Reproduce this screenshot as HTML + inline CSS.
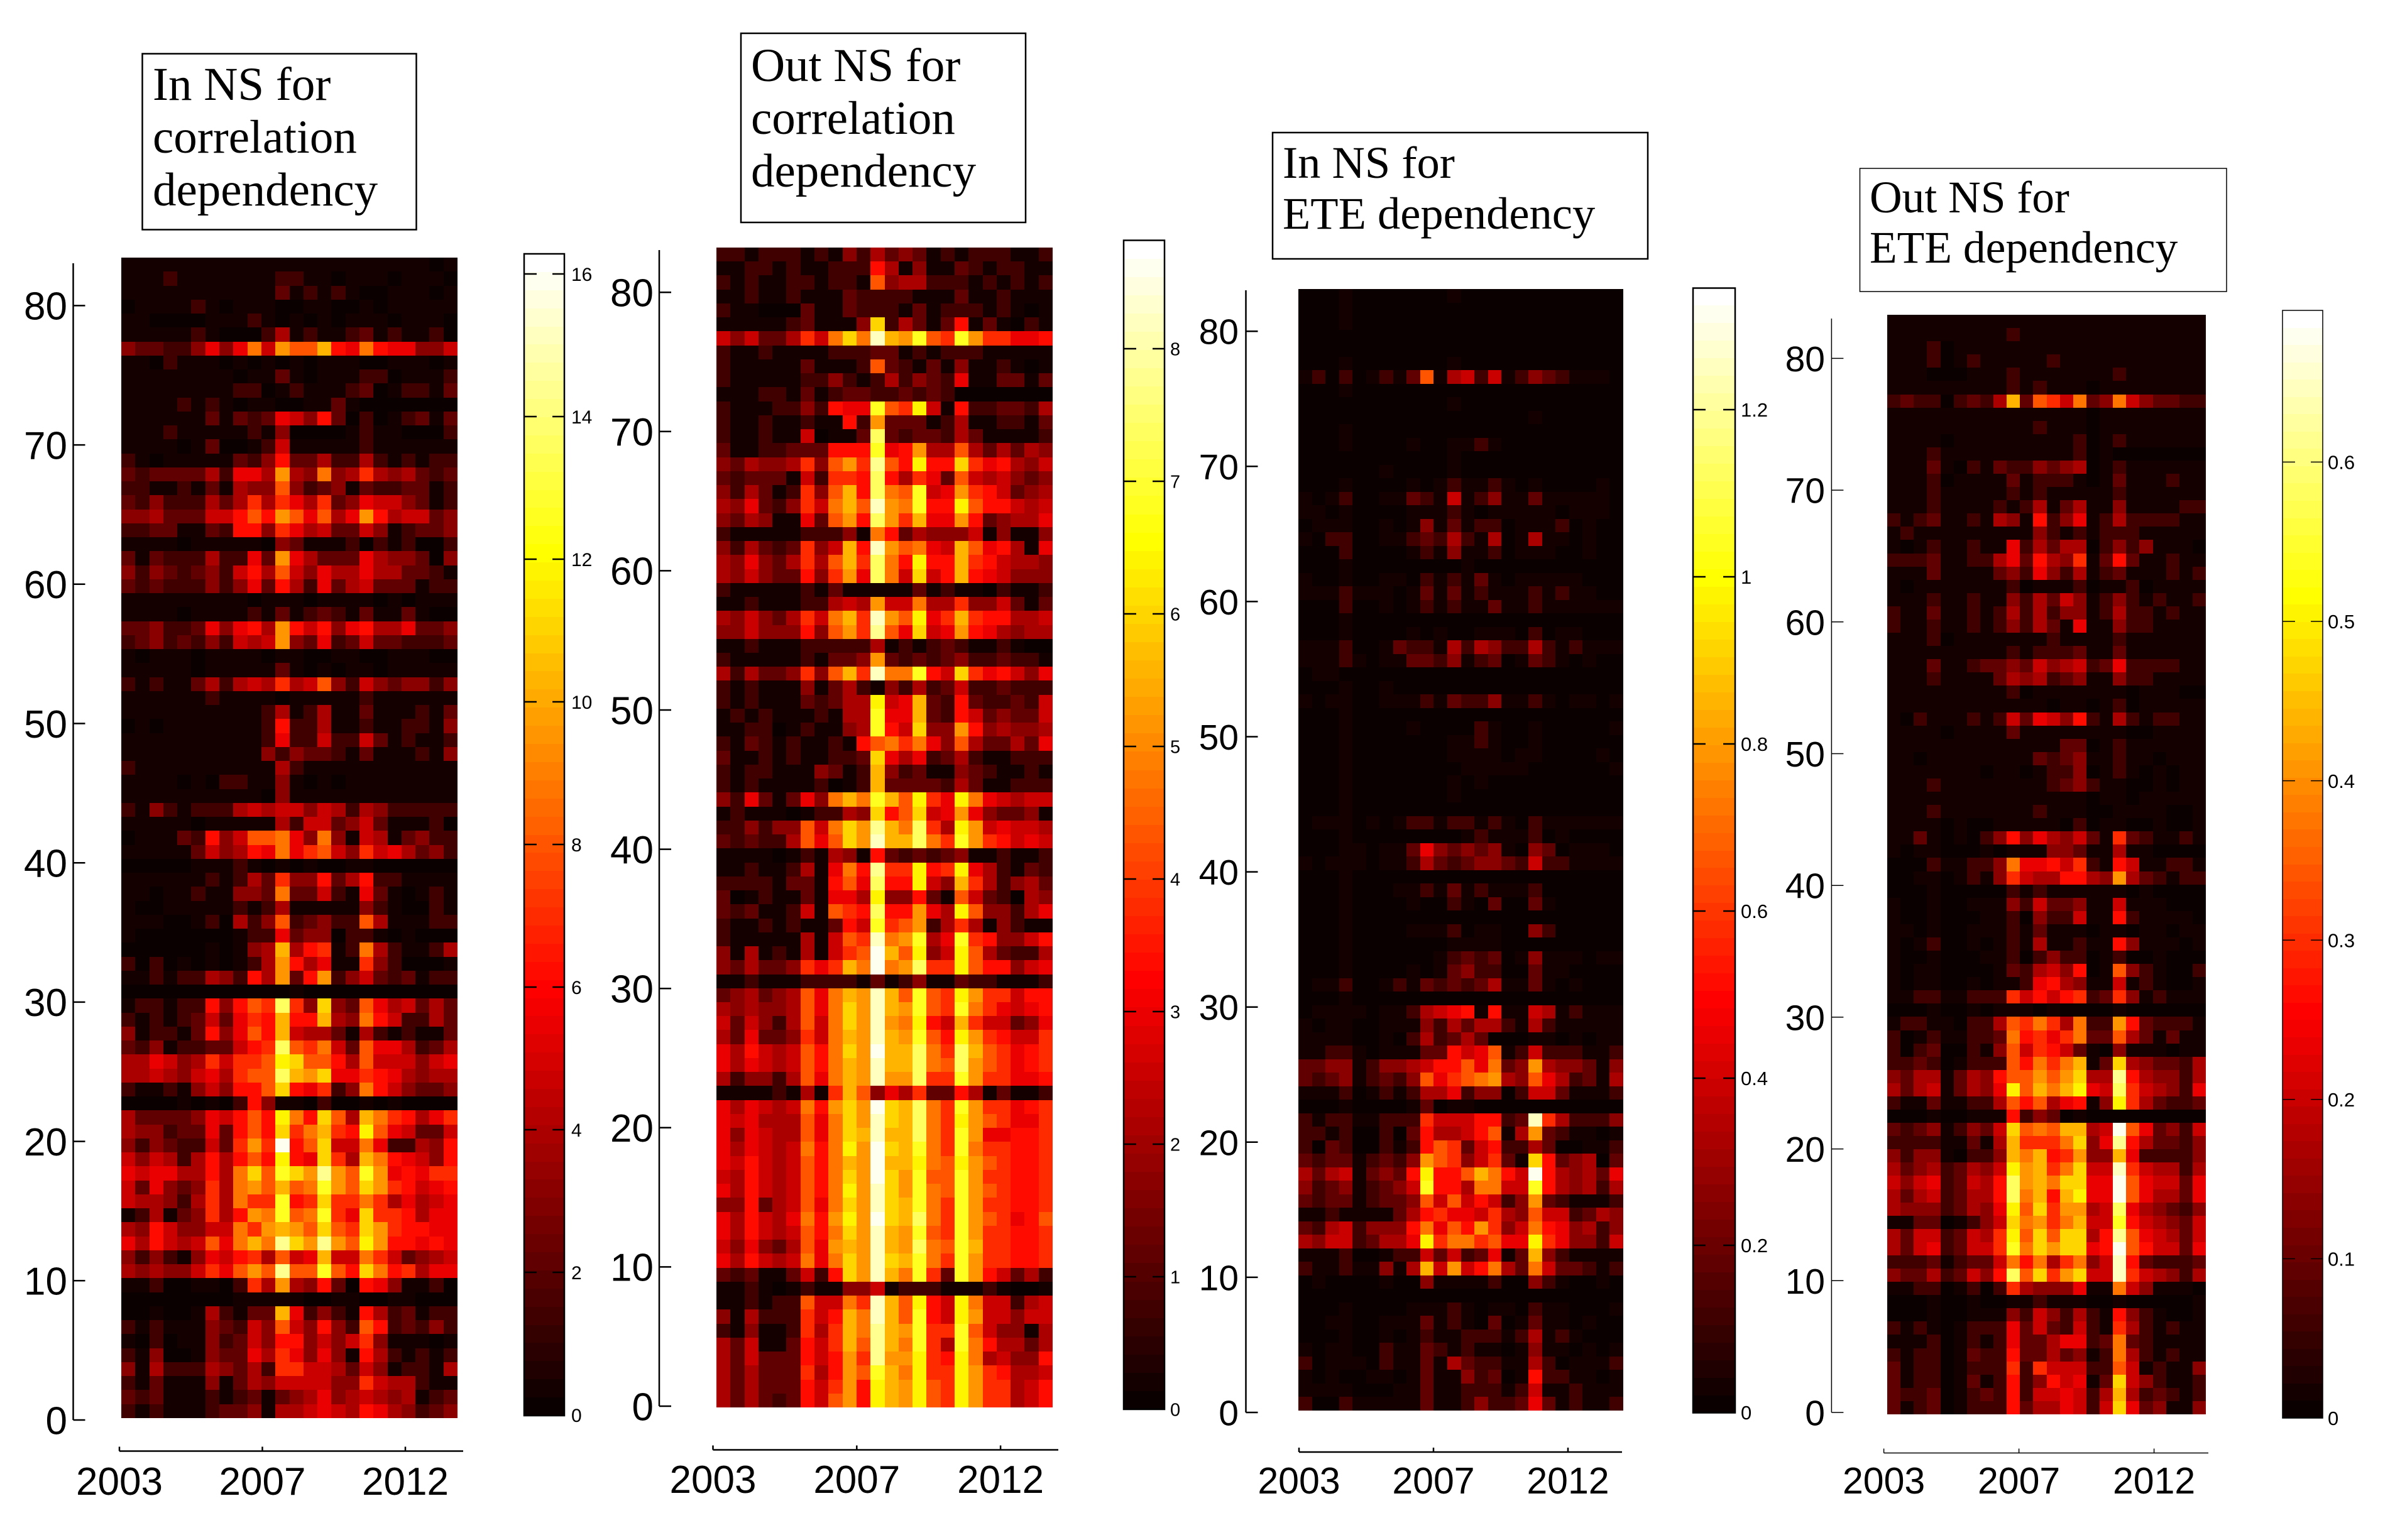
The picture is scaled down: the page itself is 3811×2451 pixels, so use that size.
<!DOCTYPE html>
<html lang="en">
<head>
<meta charset="utf-8">
<title>In and Out NS heatmaps</title>
<style>
html,body{margin:0;padding:0;background:#fff;}
svg{display:block;}
text{font-family:"Liberation Sans",sans-serif;fill:#000;}
.ttl{font-family:"Liberation Serif",serif;}
</style>
</head>
<body>
<svg id="figure" xmlns="http://www.w3.org/2000/svg" width="3811" height="2451" viewBox="0 0 3811 2451">
<rect x="0" y="0" width="3811" height="2451" fill="#fff"/>
<g>
<rect x="226.5" y="85.5" width="436" height="280" fill="#fff" stroke="#000" stroke-width="2.5"/>
<text class="ttl" x="243" y="159" font-size="75">In NS for</text>
<text class="ttl" x="243" y="243" font-size="75">correlation</text>
<text class="ttl" x="243" y="327" font-size="75">dependency</text>
</g>
<g>
<rect x="1179" y="53" width="453" height="301" fill="#fff" stroke="#000" stroke-width="2.5"/>
<text class="ttl" x="1195" y="129" font-size="75">Out NS for</text>
<text class="ttl" x="1195" y="213" font-size="75">correlation</text>
<text class="ttl" x="1195" y="297" font-size="75">dependency</text>
</g>
<g>
<rect x="2025" y="211" width="597" height="201" fill="#fff" stroke="#000" stroke-width="2.5"/>
<text class="ttl" x="2041" y="283" font-size="72.5">In NS for</text>
<text class="ttl" x="2041" y="364" font-size="72.5">ETE dependency</text>
</g>
<g>
<rect x="2959.5" y="268" width="583.5" height="196" fill="#fff" stroke="#000" stroke-width="1.5"/>
<text class="ttl" x="2975" y="338" font-size="71.5">Out NS for</text>
<text class="ttl" x="2975" y="418" font-size="71.5">ETE dependency</text>
</g>
</svg>
<script>
// Heatmap values: one array per row, top row first, 24 columns each.
// Units: twentieths of each panel's colour scale (0 = black, 20 = white).
const inCorrelationRows=[
[1,1,1,1,1,1,1,1,1,1,1,1,1,1,1,1,1,1,1,1,1,1,0,1],
[1,1,1,2,1,1,1,1,1,1,1,2,2,1,1,0,1,1,1,0,1,1,1,0],
[1,1,1,1,1,1,1,1,1,1,1,3,1,2,1,2,1,0,0,1,1,1,0,1],
[0,1,1,1,1,2,1,0,1,1,1,0,0,1,1,0,0,1,0,1,1,1,1,1],
[1,1,0,0,0,0,1,1,1,2,1,0,1,0,1,0,1,1,1,0,1,1,1,0],
[1,1,1,1,1,2,1,0,0,0,2,5,1,2,1,1,2,3,1,2,1,1,2,0],
[4,3,3,2,2,4,7,4,7,11,6,12,10,10,13,8,7,11,8,7,7,4,4,6],
[1,1,0,2,1,1,1,0,1,0,1,0,1,0,1,1,1,0,0,1,1,1,0,1],
[1,1,1,1,1,1,1,1,0,1,1,3,1,0,1,1,1,2,2,0,1,1,1,2],
[1,1,1,1,1,1,1,1,2,2,0,1,2,1,1,1,2,3,0,1,2,2,1,3],
[1,1,1,1,2,1,2,1,0,1,1,0,0,1,1,3,1,0,0,0,0,0,0,0],
[1,1,1,1,1,1,3,1,3,2,3,7,6,4,8,3,0,2,0,1,2,3,1,3],
[1,1,1,2,1,1,1,1,1,2,1,4,0,0,0,0,1,2,1,1,0,0,0,2],
[1,1,1,1,0,1,3,0,0,1,2,6,1,1,1,1,1,2,1,1,1,1,1,1],
[2,1,0,1,1,1,1,1,3,2,4,8,3,3,5,2,2,5,2,1,2,1,2,2],
[3,2,3,3,3,3,5,2,7,7,5,12,5,4,11,4,5,9,5,4,5,3,2,3],
[2,2,1,1,2,1,3,1,5,4,4,10,4,2,3,4,1,3,2,2,3,3,1,2],
[3,2,4,2,2,2,5,3,5,9,5,9,7,5,9,3,4,7,6,6,4,3,1,2],
[4,4,5,3,3,3,6,6,8,10,8,12,10,7,10,5,7,12,8,5,6,6,3,4],
[2,2,3,3,1,1,3,2,8,8,4,9,7,5,6,3,3,6,4,1,2,3,3,4],
[1,1,1,1,0,1,1,1,1,1,0,4,3,1,1,1,2,0,2,1,2,0,0,2],
[3,1,3,2,2,2,5,2,2,7,3,12,7,5,3,3,3,7,5,4,4,3,0,4],
[4,2,4,3,2,3,4,2,6,8,5,10,6,4,7,5,5,7,5,5,3,3,2,1],
[3,2,3,2,2,2,4,2,4,7,3,8,5,2,7,3,5,6,3,3,3,1,2,2],
[1,1,1,1,1,1,1,1,1,0,1,1,1,0,1,1,1,1,0,1,0,1,1,1],
[1,1,1,1,0,1,1,1,1,2,1,3,1,2,3,2,1,3,1,1,3,1,0,0],
[3,3,4,2,2,3,7,4,7,8,5,12,8,6,8,4,7,8,5,5,7,3,3,4],
[2,3,4,2,3,2,4,2,6,5,6,12,4,3,7,2,3,6,3,3,2,2,2,3],
[1,0,1,1,1,0,1,1,1,1,0,1,1,0,0,1,1,0,0,1,1,1,0,0],
[1,1,1,1,1,0,1,1,1,1,1,3,1,0,1,0,1,1,0,1,1,1,1,1],
[2,1,2,1,1,3,5,2,5,6,5,9,5,6,10,4,2,6,4,3,4,4,2,4],
[1,1,1,1,1,1,2,1,1,1,1,0,1,1,1,1,1,2,1,1,1,1,1,1],
[1,1,1,1,1,1,1,1,1,1,2,5,1,2,5,1,1,3,1,1,1,2,1,3],
[0,1,0,1,1,1,1,1,1,1,2,8,2,2,5,1,1,2,1,1,2,2,1,4],
[1,1,1,1,1,1,1,1,1,1,2,7,2,2,6,2,2,6,3,1,2,1,1,2],
[1,1,1,1,1,1,1,1,1,1,4,2,4,3,3,2,1,3,1,1,1,2,1,4],
[2,1,1,1,1,1,1,1,1,1,1,5,2,1,1,1,1,1,1,1,1,1,1,1],
[1,1,1,1,0,1,0,2,2,1,1,4,1,0,1,0,1,1,1,1,1,1,1,1],
[1,1,1,1,1,1,1,1,1,1,0,4,1,1,1,1,1,1,1,1,1,1,1,1],
[2,1,4,2,1,2,2,2,5,6,5,6,6,4,6,5,2,5,4,2,2,2,2,2],
[1,1,1,1,1,0,1,1,1,1,1,5,2,6,6,3,4,6,3,1,1,1,2,0],
[0,1,1,1,3,2,8,4,6,10,10,11,7,4,11,4,1,6,5,1,3,4,2,2],
[1,1,1,1,1,3,6,4,5,8,7,11,7,9,10,6,4,9,6,7,5,3,4,2],
[0,0,0,0,0,1,1,1,2,1,0,1,0,1,0,0,1,1,0,0,0,0,0,0],
[1,1,1,1,1,1,2,1,2,5,3,9,4,4,8,3,5,8,2,2,1,1,1,1],
[1,1,0,1,1,2,1,1,4,4,3,11,3,3,6,2,1,7,3,1,0,1,2,1],
[1,0,0,1,1,1,1,1,2,1,2,5,1,1,1,1,1,4,2,1,0,0,2,1],
[1,1,1,0,0,1,2,0,5,2,4,10,2,3,4,2,2,10,5,1,1,1,2,2],
[1,0,0,0,0,0,0,0,1,2,2,7,3,4,4,0,2,2,1,0,1,0,0,0],
[0,0,0,0,0,0,1,0,1,4,5,13,5,8,9,1,2,11,5,2,1,1,2,5],
[2,0,2,0,1,0,1,0,1,2,5,12,8,5,7,1,1,9,4,2,0,0,0,1],
[1,1,2,1,2,2,5,4,2,8,5,12,3,8,12,2,4,6,3,2,3,1,2,2],
[0,0,0,0,0,0,0,0,0,0,0,0,1,0,0,0,0,0,0,0,0,0,0,0],
[1,2,2,1,2,2,8,4,8,10,9,17,9,4,14,4,3,10,7,5,6,3,5,3],
[2,1,2,1,2,3,6,3,7,9,8,13,8,8,13,5,4,11,8,6,2,2,5,3],
[4,1,2,2,1,3,8,4,7,10,8,13,6,5,5,3,1,5,2,1,2,1,1,3],
[3,2,4,1,2,2,3,3,6,8,9,17,10,9,11,6,3,10,7,7,5,2,3,5],
[5,5,7,6,4,5,9,6,9,9,10,15,14,10,10,8,5,10,6,6,6,4,6,7],
[5,5,6,5,4,6,7,5,9,10,10,17,13,12,14,7,7,9,8,7,5,4,5,5],
[2,1,1,2,1,4,6,4,8,8,10,14,8,7,9,2,4,11,8,6,4,3,3,4],
[0,0,0,0,1,0,1,0,2,8,4,1,1,0,2,0,0,1,0,1,0,0,0,0],
[5,3,3,3,3,4,7,6,8,10,8,15,11,8,14,10,5,13,11,9,8,5,7,9],
[5,4,4,2,3,3,7,3,8,10,8,14,9,11,13,9,8,15,10,7,6,3,3,6],
[4,2,4,3,2,2,6,3,9,12,9,20,8,10,14,6,6,11,7,2,2,5,4,8],
[6,4,6,5,2,5,8,5,8,10,8,15,8,7,14,9,5,13,11,8,7,6,4,8],
[7,6,7,7,5,5,8,5,11,14,10,16,14,12,18,12,10,16,12,7,8,7,9,9],
[6,3,7,4,3,4,9,5,11,12,10,13,10,11,16,12,10,14,12,9,8,6,7,8],
[6,5,5,4,2,5,9,5,11,9,9,16,8,9,14,9,9,11,9,5,7,5,6,7],
[1,2,5,1,3,4,9,5,8,12,11,16,10,11,16,9,7,14,9,9,8,5,7,7],
[5,4,8,6,4,4,6,6,11,9,12,13,12,10,14,10,9,14,12,9,8,8,7,7],
[7,5,8,6,5,6,10,7,11,13,11,18,14,12,18,12,10,15,12,8,8,7,8,7],
[4,2,4,2,1,4,7,6,8,9,5,10,6,7,13,6,6,11,9,6,3,4,5,6],
[5,4,5,4,4,6,9,7,10,12,10,18,10,10,16,10,8,14,11,8,9,5,7,7],
[1,1,2,0,0,1,1,0,2,9,5,12,5,4,8,3,0,8,7,4,1,1,2,0],
[0,0,0,0,0,0,0,0,1,1,1,1,1,0,0,1,1,0,0,1,1,0,0,0],
[0,0,1,0,0,1,5,2,1,3,3,13,7,2,4,2,1,8,5,2,3,1,2,2],
[2,1,2,1,1,1,4,3,2,6,4,10,6,4,8,4,2,10,8,2,3,2,4,2],
[1,0,2,0,1,1,4,2,3,6,4,8,8,4,6,4,6,9,4,1,1,1,0,1],
[2,1,4,0,0,1,4,3,3,7,5,9,7,4,7,4,1,8,5,2,1,2,1,2],
[4,1,5,2,2,2,5,4,3,5,2,9,9,6,6,5,3,6,4,1,2,2,1,5],
[2,1,3,1,1,1,4,1,3,5,4,6,6,6,6,4,4,9,6,5,5,2,1,1],
[3,2,3,1,1,1,2,1,2,3,1,3,4,5,7,4,5,6,5,4,5,1,2,3],
[2,1,2,1,1,1,2,3,3,4,1,5,5,6,7,6,5,8,7,5,4,2,3,4]
];
const outCorrelationRows=[
[2,2,1,2,2,2,1,2,1,4,2,5,3,4,3,1,2,1,2,2,2,1,1,2],
[1,1,2,2,1,2,1,1,2,2,2,8,5,1,4,1,1,3,2,1,2,2,1,1],
[2,1,2,1,1,2,2,1,2,2,1,10,4,5,5,2,2,2,1,2,1,2,1,2],
[1,1,2,1,1,2,1,1,1,3,2,2,2,2,1,1,1,3,1,1,2,1,1,1],
[2,1,1,0,0,0,3,1,1,3,2,2,2,1,3,1,2,2,2,1,2,1,0,1],
[1,1,1,1,1,2,3,1,1,1,4,14,2,5,3,1,3,8,1,3,1,0,2,1],
[6,4,6,3,3,5,9,6,11,14,11,19,13,12,16,10,9,16,12,9,9,7,7,8],
[2,1,1,2,1,1,1,1,2,2,2,3,3,1,2,1,2,2,2,1,1,1,1,1],
[2,1,1,1,1,1,3,1,1,1,2,10,3,2,1,3,1,4,1,1,2,1,0,1],
[2,1,1,1,1,1,2,2,4,2,1,2,5,2,4,3,2,7,1,1,3,3,1,3],
[1,1,1,2,2,1,3,1,2,3,3,2,2,3,2,3,2,0,0,0,0,0,0,0],
[2,1,1,1,2,2,4,2,8,7,7,16,10,9,15,6,1,8,2,2,3,3,2,5],
[2,1,1,2,1,1,2,1,1,8,2,12,3,3,3,1,2,5,1,1,2,2,1,3],
[2,1,1,2,1,1,6,0,1,1,3,17,3,2,3,3,2,5,3,1,1,1,1,2],
[3,1,1,2,2,3,3,3,8,8,8,16,7,8,12,5,5,10,5,3,5,3,5,4],
[4,3,5,4,4,5,9,4,10,12,9,18,10,8,15,8,8,14,9,7,8,5,4,6],
[3,2,3,3,3,1,6,2,9,9,8,17,8,5,9,7,3,10,6,5,6,4,3,4],
[4,2,5,3,1,2,9,4,10,13,8,17,11,10,16,6,7,12,9,8,6,3,4,5],
[5,4,7,3,2,4,9,6,11,13,10,19,12,11,16,8,8,15,10,8,8,6,5,6],
[4,3,5,4,1,1,7,3,10,12,8,17,12,9,13,7,7,12,8,3,4,5,5,7],
[2,1,1,1,1,1,2,2,2,4,1,11,8,3,5,4,4,4,6,1,4,1,1,4],
[4,2,5,3,2,3,9,4,6,13,8,19,12,10,11,7,6,13,10,7,8,5,1,7],
[5,4,7,4,3,5,9,5,10,13,9,17,11,8,15,8,8,13,9,8,6,5,5,4],
[5,4,6,4,3,3,8,4,9,12,7,17,11,6,14,6,8,13,8,7,6,4,4,4],
[2,1,1,1,1,1,2,1,3,1,1,1,1,1,3,1,2,1,1,0,2,1,1,2],
[1,1,2,1,1,1,2,2,5,6,5,12,6,6,11,5,5,9,4,4,6,3,1,3],
[5,4,6,4,3,5,9,6,11,13,9,19,12,10,15,7,9,13,9,8,8,5,5,6],
[4,4,6,4,4,4,8,4,10,12,9,18,10,7,14,6,7,12,8,7,5,4,5,5],
[1,1,2,1,1,1,2,2,2,2,2,5,1,2,1,2,3,2,1,1,2,1,0,0],
[2,1,1,1,1,1,2,1,3,3,4,12,3,2,3,2,3,4,2,2,3,2,2,1],
[5,2,5,3,3,4,9,4,10,13,9,19,11,11,16,8,6,14,9,7,8,6,4,7],
[2,1,2,1,1,1,4,1,3,5,2,1,4,2,5,2,3,6,2,2,3,2,2,2],
[2,1,2,1,1,1,3,2,3,5,5,15,6,7,13,3,2,8,3,2,2,3,2,6],
[1,2,1,2,1,1,1,2,1,5,5,16,7,7,13,3,2,8,6,3,4,3,3,6],
[1,1,2,2,0,1,2,1,1,4,5,16,8,6,14,4,4,12,8,4,5,4,4,5],
[2,1,3,2,1,2,1,1,2,1,8,10,11,9,11,7,4,10,5,3,3,5,3,7],
[3,1,1,2,1,2,1,1,2,2,3,14,7,5,7,2,3,5,2,1,1,2,2,2],
[2,1,2,2,1,1,1,4,3,1,2,13,4,2,3,1,1,4,3,2,1,1,2,1],
[2,1,2,1,1,1,1,2,0,1,2,13,3,3,3,3,2,5,3,1,1,2,2,2],
[4,2,7,3,1,3,7,4,11,13,11,16,13,10,15,9,7,15,11,7,6,5,6,6],
[1,2,1,1,1,0,1,2,2,5,4,14,8,10,14,6,7,12,7,4,3,3,4,1],
[2,2,4,2,4,4,10,6,11,14,12,18,13,11,17,9,5,15,12,6,7,6,6,5],
[3,2,3,2,2,5,10,7,10,14,12,19,13,13,17,11,9,16,12,9,8,6,7,6],
[1,1,1,1,0,1,2,1,5,4,1,8,3,2,3,2,3,4,1,1,2,1,1,2],
[1,1,2,1,1,2,5,1,7,11,8,18,9,9,15,8,9,15,7,5,2,1,3,2],
[2,2,2,2,1,3,3,1,8,10,7,17,8,8,15,6,4,13,9,5,2,4,5,3],
[3,0,1,2,1,1,3,1,7,7,5,15,4,4,8,3,1,10,6,3,2,0,5,4],
[3,2,3,1,1,2,6,1,10,9,8,17,8,8,12,7,5,15,10,4,4,2,5,7],
[2,1,1,2,1,2,1,1,3,8,6,16,9,10,12,2,5,9,5,1,4,2,1,1],
[2,1,1,1,1,1,5,1,6,10,9,19,11,12,16,5,7,16,9,8,4,4,6,8],
[4,1,5,1,2,1,5,1,6,9,10,20,13,10,15,4,6,15,10,5,3,2,2,5],
[4,3,5,3,3,4,9,7,9,13,11,20,11,12,17,9,9,15,10,8,8,4,6,7],
[1,1,2,1,1,1,2,2,2,2,1,3,1,2,4,1,1,3,2,2,1,1,1,2],
[3,4,5,3,4,5,10,7,11,13,12,19,13,10,16,10,9,15,12,9,9,6,8,8],
[5,4,5,4,4,5,10,7,11,14,12,19,13,12,16,10,9,16,11,9,7,6,7,8],
[6,3,6,4,2,5,10,6,11,14,12,19,12,11,15,8,6,13,9,6,6,3,4,7],
[5,3,7,3,3,4,9,6,11,13,12,19,13,12,16,10,8,15,12,9,8,6,6,9],
[7,5,8,6,5,6,10,8,11,14,12,20,13,13,17,11,9,17,13,10,9,7,8,9],
[7,5,7,6,5,6,10,8,11,13,12,19,13,13,17,11,10,17,12,10,9,7,8,9],
[5,2,4,4,2,5,10,7,11,13,12,19,12,12,17,9,9,16,12,9,9,7,7,8],
[1,1,1,1,2,1,5,1,9,13,10,4,7,5,9,3,3,8,5,1,3,1,1,2],
[7,5,7,6,5,6,11,8,12,14,12,20,14,13,17,11,9,16,12,9,9,7,8,9],
[7,6,7,5,5,5,10,7,11,14,12,19,14,13,17,11,9,15,12,10,9,7,7,9],
[7,4,7,6,5,5,10,7,11,14,13,19,13,13,17,11,9,16,12,7,7,8,8,9],
[7,5,7,6,5,6,11,8,11,15,12,20,14,13,16,11,9,16,11,9,9,8,8,9],
[7,6,8,6,5,6,10,8,11,13,12,20,13,13,15,11,10,15,12,10,9,8,8,9],
[6,5,8,6,5,6,10,8,11,14,12,20,14,12,16,10,10,16,12,9,9,8,8,9],
[7,5,8,6,5,6,10,8,11,15,12,19,14,12,16,11,10,16,12,10,9,8,8,9],
[4,4,8,3,5,6,10,7,11,14,12,19,14,13,16,11,9,16,12,9,9,8,8,9],
[7,5,8,6,5,7,11,8,12,15,12,20,14,13,17,11,9,16,12,10,9,7,8,10],
[7,5,8,6,5,6,10,8,11,14,12,19,13,12,16,10,9,16,12,9,9,8,8,9],
[6,4,7,4,3,5,10,7,12,13,12,19,13,12,17,11,10,16,13,9,9,8,8,9],
[7,5,8,6,5,6,11,7,11,14,12,19,14,13,16,11,9,16,12,9,9,8,8,9],
[3,2,3,1,1,3,6,2,8,14,12,19,13,11,16,9,3,16,12,8,6,3,5,2],
[1,1,2,1,0,1,2,1,1,4,4,6,1,2,2,2,1,1,1,2,1,0,0,1],
[1,1,2,1,2,2,10,6,6,11,9,19,13,10,15,8,6,15,11,6,6,2,5,6],
[4,1,5,2,2,2,9,6,8,13,11,19,13,10,16,8,6,15,12,6,6,4,6,6],
[2,1,4,1,1,2,9,5,9,13,11,18,13,12,16,9,9,16,10,6,4,4,1,5],
[5,3,6,1,1,3,8,6,9,13,10,18,13,11,16,9,5,16,11,8,5,5,3,5],
[5,3,6,3,3,3,8,6,8,12,9,18,12,12,15,9,8,15,11,5,6,4,4,8],
[5,3,5,3,3,3,9,5,8,12,10,16,13,11,15,9,9,15,12,9,8,5,5,6],
[5,3,5,3,3,3,8,6,9,12,8,15,13,12,15,10,9,15,12,9,9,5,6,8],
[5,3,5,3,2,3,8,6,10,12,8,15,13,12,15,10,9,15,12,9,9,5,6,8]
];
const inEteRows=[
[0,0,0,1,0,0,0,0,0,0,0,1,0,0,0,0,0,0,0,0,0,0,0,0],
[0,0,0,1,0,0,0,0,0,0,0,0,0,0,0,0,0,0,0,0,0,0,0,0],
[0,0,0,1,0,0,0,0,0,0,0,0,0,0,0,0,0,0,0,0,0,0,0,0],
[0,0,0,0,0,0,0,0,0,0,0,0,0,0,0,0,0,0,0,0,0,0,0,0],
[0,0,0,0,0,0,0,0,0,0,0,0,0,0,0,0,0,0,0,0,0,0,0,0],
[0,0,0,1,0,0,0,0,0,0,0,1,0,0,0,0,0,0,0,0,0,0,0,0],
[1,2,0,2,0,1,2,1,3,10,1,5,6,2,6,1,2,4,3,2,1,1,1,0],
[0,0,0,1,0,0,0,0,0,0,0,0,0,0,0,0,0,0,0,0,0,0,0,0],
[0,0,0,0,0,0,0,0,0,0,0,1,0,0,0,0,0,0,0,0,0,0,0,0],
[0,0,0,0,0,0,0,0,0,0,0,0,0,0,0,0,0,1,0,0,0,0,0,0],
[0,0,0,1,0,0,0,0,0,0,0,0,0,0,0,0,0,0,0,0,0,0,0,0],
[0,0,0,1,0,0,0,0,1,0,0,1,1,2,1,0,0,0,0,0,0,0,0,0],
[0,0,0,0,0,0,0,0,0,0,0,1,0,0,0,0,0,0,0,0,0,0,0,0],
[0,0,0,0,0,0,1,0,0,0,0,1,0,0,0,0,0,0,0,0,0,0,0,0],
[0,0,0,1,0,0,0,0,1,0,1,2,1,1,2,1,0,1,0,0,0,0,1,0],
[1,0,1,2,0,0,1,1,3,2,1,6,1,2,4,1,1,3,1,1,1,1,1,0],
[1,1,0,1,0,0,0,0,1,1,1,2,1,0,1,1,1,1,1,0,1,1,1,0],
[0,1,1,1,0,0,1,0,1,4,1,3,1,2,2,0,1,1,1,2,0,1,0,0],
[1,0,2,2,0,0,1,1,2,3,2,5,2,1,5,0,1,5,1,1,0,1,0,0],
[0,0,0,2,0,0,0,0,1,2,1,4,1,1,2,0,1,1,1,0,0,1,0,0],
[0,0,0,1,0,0,0,0,0,0,0,0,1,0,0,0,0,0,0,0,0,0,0,0],
[1,0,0,1,0,0,1,1,0,2,1,2,1,3,1,0,1,1,1,1,1,0,0,0],
[1,1,1,2,1,1,1,0,1,3,1,3,1,2,1,1,1,2,1,2,1,1,0,0],
[0,0,0,2,0,0,1,0,1,2,1,2,1,1,3,1,1,2,1,1,1,1,1,1],
[0,0,0,1,0,0,0,0,0,0,0,0,0,0,0,0,0,0,0,0,0,0,0,0],
[0,0,0,1,0,0,0,0,1,0,1,0,0,1,1,1,0,2,0,1,1,0,0,0],
[1,1,1,2,0,0,1,3,2,2,1,5,2,5,4,2,2,5,2,1,2,1,1,1],
[1,1,1,2,1,0,1,1,3,3,2,4,1,2,3,0,1,3,2,1,0,1,0,0],
[0,1,1,0,0,0,0,0,0,0,0,0,0,0,0,0,0,0,0,0,0,0,0,0],
[0,0,0,1,0,0,1,0,0,0,0,0,0,0,0,0,0,0,0,0,0,0,0,0],
[1,0,1,1,0,0,1,1,1,2,1,3,2,2,4,1,1,2,1,0,1,1,0,1],
[0,0,0,1,0,0,0,0,0,0,0,0,0,0,0,0,0,0,0,0,0,0,0,0],
[0,0,0,1,0,0,0,0,1,0,0,0,0,2,1,0,0,1,0,0,0,0,0,1],
[0,0,0,1,0,0,0,0,0,0,0,1,1,2,1,0,0,1,0,0,0,0,0,0],
[0,0,0,1,0,0,0,0,0,0,0,1,1,1,1,0,1,1,0,0,0,0,1,0],
[0,0,0,1,0,0,0,0,0,0,0,0,1,1,1,1,1,0,0,0,0,0,0,1],
[0,0,0,1,0,0,0,0,0,0,0,1,0,1,0,0,0,0,0,0,0,0,0,0],
[0,0,0,1,0,0,0,0,0,0,0,1,0,0,0,0,0,0,0,0,0,0,0,0],
[0,0,0,1,0,0,0,0,0,0,0,0,0,0,0,0,0,0,0,0,0,0,0,0],
[0,1,1,1,0,1,0,1,2,2,1,2,2,1,2,1,0,2,1,1,1,1,1,1],
[0,0,0,1,0,0,0,0,0,0,0,0,1,2,1,1,1,2,0,1,0,0,0,0],
[0,0,0,1,1,0,1,1,3,7,4,3,4,3,4,1,0,4,3,0,1,1,1,0],
[1,0,1,1,1,0,1,1,2,5,3,2,3,4,4,3,2,6,2,2,1,1,1,1],
[0,0,0,1,0,0,0,0,0,0,0,0,0,0,0,0,0,0,0,0,0,0,0,0],
[0,0,0,1,0,0,0,1,1,2,1,3,1,2,1,1,1,2,0,0,0,0,0,0],
[0,0,0,1,0,0,0,0,1,0,0,2,1,0,3,0,0,3,1,0,0,0,0,0],
[0,0,0,1,0,0,0,0,0,0,0,0,0,0,0,0,0,0,0,0,0,0,0,0],
[0,0,0,1,0,0,0,0,1,1,1,2,0,1,1,0,0,4,2,0,0,0,0,0],
[0,0,0,1,0,0,0,0,0,0,0,1,1,1,1,0,0,0,0,0,0,0,0,0],
[0,0,0,1,0,0,0,0,0,0,1,2,3,2,3,0,1,4,1,1,1,0,1,1],
[0,0,0,1,0,0,0,0,1,0,1,3,4,2,2,0,0,3,1,1,0,0,0,0],
[0,1,1,2,0,0,1,2,1,3,2,3,2,3,5,1,1,3,1,0,1,0,0,0],
[0,0,0,1,0,0,0,0,0,0,0,0,0,0,0,0,0,0,0,0,0,0,0,0],
[0,1,1,1,1,0,1,1,2,5,6,7,8,1,8,1,1,6,5,1,2,1,1,1],
[1,0,1,1,0,0,1,1,1,4,2,5,3,5,5,2,1,5,2,1,1,1,1,1],
[1,1,1,1,0,0,1,0,2,5,2,3,5,3,0,0,0,1,1,0,1,0,1,1],
[1,1,2,2,1,0,1,1,1,3,3,8,6,7,10,1,2,6,2,2,2,1,1,2],
[3,3,4,4,1,2,4,4,5,6,8,8,10,7,11,3,4,12,5,4,4,3,1,4],
[3,2,3,4,1,2,3,2,4,10,7,9,10,11,12,5,4,10,7,5,2,3,1,5],
[1,1,1,2,0,1,2,1,2,5,5,7,2,4,4,0,2,6,6,3,1,1,1,2],
[0,0,0,1,0,0,0,0,1,3,0,1,1,0,0,0,0,0,0,0,0,0,0,0],
[2,1,2,2,1,1,2,2,2,9,6,6,6,8,8,2,3,19,9,5,2,2,2,4],
[2,2,1,2,0,0,2,0,3,8,5,5,6,8,10,1,5,12,3,2,1,1,0,1],
[2,0,3,2,0,0,2,1,2,8,10,9,3,6,8,2,2,5,3,0,0,1,1,2],
[3,2,3,3,1,2,3,2,4,12,10,9,4,6,9,3,1,14,8,3,4,5,0,3],
[5,3,5,6,1,3,4,3,8,15,8,8,10,13,11,8,6,20,8,5,4,5,3,7],
[4,2,3,4,1,2,3,4,6,16,8,8,5,11,11,6,6,16,8,5,4,5,2,5],
[3,2,3,3,1,2,3,3,4,10,6,10,6,8,6,2,4,12,3,2,1,1,1,2],
[1,1,2,1,1,1,1,3,5,8,9,7,7,6,9,5,4,10,6,6,2,3,5,4],
[3,2,5,6,2,4,4,4,8,11,7,10,8,12,9,4,6,11,8,7,4,5,2,4],
[5,4,6,6,2,3,5,5,7,15,9,11,11,9,10,7,7,15,9,7,4,4,2,6],
[1,1,1,2,0,0,1,2,2,6,3,6,2,3,7,1,3,13,4,2,1,1,1,1],
[2,1,1,2,1,1,4,1,5,13,6,12,6,8,11,5,3,11,6,3,3,2,1,2],
[0,1,0,0,0,0,1,0,0,4,1,1,1,1,2,0,0,4,2,1,0,0,1,0],
[0,0,0,0,0,0,0,0,0,0,0,0,0,0,0,0,0,0,0,0,0,0,0,0],
[0,0,0,1,0,0,0,0,1,1,1,2,1,0,1,1,0,2,1,1,0,0,0,1],
[0,0,1,1,0,0,1,1,1,3,1,2,1,0,3,0,1,3,1,1,0,1,0,0],
[0,0,0,1,0,0,1,0,1,2,1,1,2,2,2,1,2,5,1,2,1,0,0,0],
[1,0,1,1,0,0,2,1,1,3,2,1,2,1,1,0,1,4,1,1,0,1,0,1],
[2,0,1,1,1,0,2,1,1,3,1,5,3,2,2,1,1,5,2,0,1,1,1,2],
[1,0,1,0,0,1,1,0,1,3,1,1,4,2,3,0,1,8,2,2,1,1,0,1],
[1,1,1,1,0,0,0,1,1,3,1,1,2,2,2,1,2,6,1,1,2,1,1,1],
[2,0,0,2,1,1,1,1,1,3,1,1,2,4,2,2,3,7,3,1,2,1,1,2]
];
const outEteRows=[
[1,1,1,1,1,1,1,1,1,1,1,1,1,1,1,1,1,1,1,1,1,1,1,1],
[1,1,1,1,1,1,1,1,1,2,1,1,1,1,1,1,1,1,1,1,1,1,1,1],
[1,1,1,2,0,1,1,1,1,1,1,1,1,1,1,1,1,1,1,1,1,1,1,1],
[1,1,1,2,0,1,2,1,1,1,1,1,2,1,1,1,1,1,1,1,1,1,1,1],
[1,1,1,0,0,0,1,1,1,2,1,1,1,1,1,1,1,2,1,1,1,1,1,1],
[1,1,1,1,1,1,1,1,1,2,1,2,1,1,1,0,1,1,1,1,1,1,1,1],
[2,3,2,2,0,2,3,2,5,13,3,10,9,6,11,3,4,11,6,4,3,3,2,2],
[1,1,1,1,1,1,1,1,1,1,1,1,1,1,1,0,1,1,1,1,1,1,1,1],
[1,1,1,1,1,1,1,1,1,1,1,2,1,1,1,0,1,1,1,1,1,1,1,1],
[1,1,1,1,0,1,1,1,1,1,1,1,1,1,2,0,1,2,1,1,1,1,1,1],
[1,1,1,2,1,1,1,1,1,1,1,1,1,1,2,0,1,0,0,0,0,0,0,0],
[1,1,1,3,1,0,2,1,3,2,2,4,3,4,5,0,1,2,1,1,1,1,1,1],
[1,1,1,2,0,1,1,1,1,3,1,2,2,2,1,0,1,3,1,1,1,2,1,1],
[1,1,1,2,1,1,1,1,1,2,1,2,1,1,1,1,1,2,1,1,1,1,1,1],
[1,1,1,2,1,1,1,1,2,1,2,5,1,3,5,1,1,4,1,1,1,1,2,2],
[2,1,2,3,1,1,2,1,5,4,1,8,2,4,7,1,2,5,2,2,2,2,1,1],
[1,2,1,1,1,1,1,1,1,1,1,4,2,1,2,1,2,2,2,1,1,1,1,1],
[1,0,1,2,1,1,2,1,1,7,2,5,3,5,5,0,2,4,2,4,1,1,1,0],
[2,2,2,3,1,1,2,2,5,7,3,8,5,4,9,1,3,8,3,1,1,2,1,1],
[1,1,1,3,1,1,1,1,3,4,2,7,4,2,5,1,2,3,1,1,1,2,1,2],
[1,0,1,1,1,1,1,1,1,2,0,1,1,1,2,0,1,1,2,0,1,1,1,1],
[1,1,1,2,1,1,2,1,1,4,2,5,3,6,4,1,2,4,2,1,2,1,1,2],
[2,1,1,3,1,1,2,1,2,5,2,5,2,4,4,1,2,5,2,2,1,2,1,1],
[2,1,1,2,1,1,2,1,2,4,2,5,3,1,7,1,1,4,2,2,1,1,1,1],
[1,1,1,2,0,1,1,1,1,1,1,1,2,1,1,1,1,2,1,1,1,1,1,1],
[1,1,1,1,1,1,1,1,1,2,1,2,2,2,3,1,1,3,1,1,1,1,1,1],
[1,1,1,3,1,1,2,3,3,4,3,6,4,5,6,2,3,7,2,2,2,2,1,1],
[1,1,1,2,1,1,1,1,3,5,4,5,2,3,4,1,1,4,2,2,1,1,1,1],
[1,1,1,1,1,1,1,1,1,2,0,1,1,1,1,1,1,1,0,1,1,1,0,0],
[1,1,1,1,1,1,1,1,1,1,1,1,0,1,1,0,1,2,0,1,1,1,1,1],
[1,0,2,1,1,1,2,1,2,6,3,7,6,4,8,2,1,5,2,1,2,2,1,1],
[1,1,1,1,0,1,1,1,1,3,1,1,1,1,1,1,1,1,0,0,1,1,1,1],
[1,1,1,1,1,1,1,1,1,1,1,1,1,3,3,0,1,2,1,1,1,1,1,1],
[1,1,0,1,1,1,1,1,1,1,1,3,2,3,4,1,1,2,1,1,0,1,1,1],
[1,1,1,1,1,1,1,0,1,1,0,1,2,2,4,0,1,2,1,0,1,0,1,1],
[1,1,1,2,1,1,1,1,1,1,1,1,2,3,4,2,1,1,0,0,1,0,1,1],
[1,1,1,1,1,1,1,1,1,1,1,1,1,1,1,0,1,1,0,1,1,1,1,1],
[1,1,1,2,1,1,1,1,1,1,1,2,1,1,1,0,0,1,1,1,1,0,0,1],
[1,1,1,1,0,1,0,0,1,1,1,1,1,0,2,0,1,1,0,0,1,0,0,1],
[1,1,3,1,0,1,0,2,4,8,4,7,5,4,6,3,1,9,3,2,1,1,2,1],
[1,0,1,1,0,0,0,1,0,1,1,1,4,4,3,1,1,5,1,1,0,0,0,0],
[0,0,0,2,1,1,2,2,4,11,7,7,8,6,9,2,1,8,6,1,1,2,2,1],
[0,0,1,1,0,1,2,1,4,9,6,5,5,8,8,5,4,12,5,3,2,1,2,2],
[0,0,0,1,0,0,0,0,0,2,1,2,1,1,1,1,1,1,0,1,0,0,0,0],
[1,0,0,1,0,0,1,1,1,4,2,6,3,3,4,1,1,6,1,1,1,0,0,0],
[1,0,0,1,0,0,0,1,1,2,0,4,2,2,6,1,1,8,2,1,1,1,1,0],
[1,1,0,1,0,0,1,1,1,2,1,3,1,1,1,0,1,1,0,1,1,0,1,1],
[1,0,1,2,0,0,1,0,1,2,1,5,1,1,2,1,1,8,4,1,1,1,0,1],
[1,0,0,1,0,0,0,1,1,2,0,2,4,2,2,0,1,2,0,0,1,0,0,0],
[1,0,1,1,0,0,0,0,1,3,2,5,6,4,8,0,1,10,4,2,1,0,0,2],
[1,0,1,1,0,0,1,0,1,1,2,7,8,5,4,1,1,6,1,2,1,0,0,1],
[1,1,2,2,1,1,2,2,2,9,6,8,6,8,9,2,3,9,4,1,2,1,1,1],
[0,0,0,1,0,0,1,0,1,1,1,0,1,0,0,0,0,1,0,0,0,0,0,0],
[1,2,2,1,1,0,2,2,5,10,9,11,9,5,11,2,2,12,8,3,2,2,2,1],
[2,0,1,2,1,1,2,2,3,11,8,9,7,9,11,3,3,10,5,3,1,3,1,1],
[2,0,2,3,0,0,2,1,4,10,6,9,8,6,3,1,0,4,1,1,1,0,1,1],
[2,2,3,2,0,1,2,2,2,10,8,11,9,11,13,1,3,14,5,4,3,3,2,5],
[4,3,5,5,1,3,5,4,8,10,10,12,10,12,14,5,5,18,8,5,4,4,2,5],
[5,3,5,6,1,3,5,4,7,15,10,13,11,13,15,7,6,17,9,6,5,4,2,7],
[2,1,1,3,1,1,2,2,5,10,8,10,5,7,8,1,4,15,9,5,3,2,2,3],
[0,0,0,1,0,0,1,1,1,8,2,4,3,0,1,0,0,0,0,0,0,0,0,0],
[3,2,3,4,1,2,4,3,6,14,10,11,10,13,13,5,6,20,10,7,3,4,2,6],
[2,2,2,2,1,1,3,1,5,13,9,9,9,11,14,4,7,18,8,5,3,3,2,4],
[4,2,4,4,1,0,2,2,4,13,11,13,8,9,12,4,4,13,7,2,2,2,2,4],
[5,3,4,5,2,3,5,4,6,15,12,13,9,11,14,6,6,19,9,6,5,5,2,5],
[6,4,6,7,2,3,6,5,8,17,12,13,11,14,14,7,7,20,10,7,6,6,3,7],
[5,3,5,6,2,3,5,5,8,17,11,13,8,13,15,7,7,20,10,7,5,5,3,7],
[5,4,4,4,2,3,5,4,7,15,10,14,9,12,12,5,6,17,7,5,4,3,2,4],
[1,1,3,3,0,1,2,4,6,14,11,12,9,11,13,6,6,16,8,6,5,4,3,6],
[5,3,6,6,2,3,6,5,9,15,10,14,10,14,14,5,8,18,10,7,6,5,3,6],
[5,3,6,7,2,3,6,6,9,16,11,14,12,14,14,7,8,20,10,8,6,6,3,7],
[2,2,2,3,1,2,3,3,6,11,8,11,5,9,11,4,6,19,8,3,2,2,2,3],
[4,3,3,5,2,3,6,4,8,17,10,14,9,12,14,6,6,19,9,6,5,4,2,5],
[1,1,2,2,0,1,2,0,2,9,5,4,4,4,7,1,1,11,6,4,1,1,1,0],
[0,0,0,1,0,0,1,0,0,1,1,2,1,1,1,0,0,1,0,0,0,0,0,1],
[0,0,0,1,0,0,1,1,1,4,2,6,4,2,5,2,1,8,4,2,1,0,0,1],
[2,1,2,1,0,1,2,2,2,7,3,6,3,2,6,2,1,9,5,2,1,2,1,1],
[1,1,1,2,0,1,2,1,2,7,3,3,5,7,7,2,3,11,3,2,1,1,1,1],
[2,1,2,2,0,1,3,2,2,8,3,3,5,3,4,1,2,11,5,2,1,2,1,1],
[3,1,2,2,0,1,2,2,2,9,2,9,6,6,6,2,2,10,6,1,2,1,1,4],
[3,1,2,2,0,1,3,1,2,8,2,4,8,6,7,1,3,14,6,4,2,1,1,2],
[3,2,2,3,0,1,2,3,2,8,2,6,6,7,6,2,5,13,5,2,3,2,1,2],
[3,1,2,3,0,1,2,2,2,8,3,5,5,7,6,2,6,14,7,3,4,1,1,4]
];
const yTickValues=[0,10,20,30,40,50,60,70,80];
const xTickLabels=['2003','2007','2012'];
const inCorrelationScaleTicks=[0,2,4,6,8,10,12,14,16];
const outCorrelationScaleTicks=[0,1,2,3,4,5,6,7,8];
const inEteScaleTicks=[0,0.2,0.4,0.6,0.8,1,1.2];
const outEteScaleTicks=[0,0.1,0.2,0.3,0.4,0.5,0.6];

const SVGNS='http://www.w3.org/2000/svg';
const figure=document.getElementById('figure');

function hotColor(level){
  const i=Math.max(0,Math.min(63,level));
  const r=Math.min(1,(i+1)/24);
  const g=Math.max(0,Math.min(1,(i-23)/24));
  const b=Math.max(0,Math.min(1,(i-47)/16));
  return 'rgb('+Math.round(r*255)+','+Math.round(g*255)+','+Math.round(b*255)+')';
}
function valueLevel(v){
  if(v<1.5){return v>=1?1:0;}
  return Math.round(v*3.15)-1;
}
function make(tag,parent,attrs){
  const el=document.createElementNS(SVGNS,tag);
  for(const k in attrs){el.setAttribute(k,attrs[k]);}
  parent.appendChild(el);
  return el;
}
function line(parent,x1,y1,x2,y2,w,name){
  const el=make('line',parent,{x1:x1,y1:y1,x2:x2,y2:y2,stroke:'#000','stroke-width':w});
  
  
  return el;
}
function label(parent,x,y,size,anchor,str,name){
  const el=make('text',parent,{x:x,y:y,'font-size':size,'text-anchor':anchor});
  el.textContent=str;
  
  
  return el;
}

function drawPanel(p){
  const g=make('g',figure,{});
  
  

  // heatmap
  const rows=p.rows;
  const nRows=rows.length;
  const nCols=24;
  const xCell=function(c){return p.heat.x0+(p.heat.x1-p.heat.x0)*c/nCols;};
  const yCell=function(r){return p.heat.y0+(p.heat.y1-p.heat.y0)*r/nRows;};
  const heat=make('g',g,{'shape-rendering':'crispEdges'});
  
  
  rows.forEach(function(row,r){
    for(let c=0;c<nCols;c++){
      const v=row[c]===undefined?0:row[c];
      const x=Math.round(xCell(c));
      const y=Math.round(yCell(r));
      const cell=make('rect',heat,{x:x,y:y,width:Math.round(xCell(c+1))-x,height:Math.round(yCell(r+1))-y,fill:hotColor(valueLevel(v))});
      
      
    }
  });

  // y axis
  const yAxis=make('g',g,{});
  
  
  const yPos=function(v){return p.y.zero-v*p.y.perUnit;};
  line(yAxis,p.y.x,p.y.top,p.y.x,yPos(0),p.w,'y-axis-line');
  yTickValues.forEach(function(v){
    line(yAxis,p.y.x,yPos(v),p.y.x+p.y.tick,yPos(v),p.w,'y-tick');
    label(yAxis,p.y.labelX,yPos(v)+p.y.size*0.36,p.y.size,'end',String(v),'y-tick-label');
  });

  // x axis
  const xAxis=make('g',g,{});
  
  
  const xPos=function(i){return p.x.start+i*p.x.step;};
  line(xAxis,p.x.start,p.x.y,p.x.end,p.x.y,p.w,'x-axis-line');
  xTickLabels.forEach(function(t,i){
    line(xAxis,xPos(i),p.x.y,xPos(i),p.x.y-7,p.w,'x-tick');
    label(xAxis,xPos(i),p.x.labelY,p.x.size,'middle',t,'x-tick-label');
  });

  // colour bar
  const cb=make('g',g,{});
  
  
  const bands=make('g',cb,{'shape-rendering':'crispEdges'});
  
  
  const cbH=p.cb.y1-p.cb.y0;
  for(let i=0;i<64;i++){
    const top=Math.round(p.cb.y1-cbH*(i+1)/64);
    const bot=Math.round(p.cb.y1-cbH*i/64);
    const band=make('rect',bands,{x:p.cb.x0,y:top,width:p.cb.x1-p.cb.x0,height:bot-top,fill:hotColor(i)});
    
    
  }
  const frame=make('rect',cb,{x:p.cb.x0,y:p.cb.y0,width:p.cb.x1-p.cb.x0,height:cbH,fill:'none',stroke:'#000','stroke-width':p.w});
  
  
  const cbPos=function(v){return p.cb.zero-v*p.cb.perUnit;};
  p.cb.ticks.forEach(function(v){
    const y=cbPos(v);
    if(v!==0){
      line(cb,p.cb.x0,y,p.cb.x0+20,y,p.w,'colorbar-tick');
      line(cb,p.cb.x1-19,y,p.cb.x1,y,p.w,'colorbar-tick');
    }
    label(cb,p.cb.labelX,y+p.cb.size*0.36,p.cb.size,'start',String(v),'colorbar-tick-label');
  });
}

drawPanel({name:'panel-in-ns-correlation',rows:inCorrelationRows,w:2.5,
  heat:{x0:193,x1:728,y0:410,y1:2257},
  y:{x:116.5,top:419,zero:2260,perUnit:22.17,tick:19,labelX:107,size:62},
  x:{start:190,end:737,step:227.5,y:2309.5,labelY:2379,size:62},
  cb:{x0:834,x1:898,y0:404,y1:2253,zero:2252,perUnit:113.5,ticks:inCorrelationScaleTicks,labelX:909,size:30}});
drawPanel({name:'panel-out-ns-correlation',rows:outCorrelationRows,w:2.5,
  heat:{x0:1140,x1:1675,y0:394,y1:2240},
  y:{x:1049,top:398,zero:2238,perUnit:22.16,tick:19,labelX:1040,size:62},
  x:{start:1134.5,end:1684,step:228.8,y:2307.5,labelY:2376,size:62},
  cb:{x0:1788,x1:1853,y0:382.5,y1:2243,zero:2243,perUnit:211,ticks:outCorrelationScaleTicks,labelX:1862,size:29}});
drawPanel({name:'panel-in-ns-ete',rows:inEteRows,w:2.5,
  heat:{x0:2066,x1:2583,y0:460,y1:2245},
  y:{x:1982.5,top:462,zero:2248,perUnit:21.51,tick:19,labelX:1971,size:57},
  x:{start:2067,end:2581,step:214,y:2311,labelY:2377,size:59},
  cb:{x0:2694,x1:2761,y0:458.5,y1:2248.5,zero:2248,perUnit:1330,ticks:inEteScaleTicks,labelX:2770,size:31}});
drawPanel({name:'panel-out-ns-ete',rows:outEteRows,w:1.5,
  heat:{x0:3003,x1:3510,y0:501,y1:2251},
  y:{x:2914.4,top:507,zero:2248,perUnit:20.97,tick:19,labelX:2904,size:57},
  x:{start:2997.6,end:3514,step:215,y:2312.5,labelY:2377,size:59},
  cb:{x0:3632,x1:3696,y0:494,y1:2257,zero:2257,perUnit:2536,ticks:outEteScaleTicks,labelX:3704,size:31}});
</script>
</body>
</html>
